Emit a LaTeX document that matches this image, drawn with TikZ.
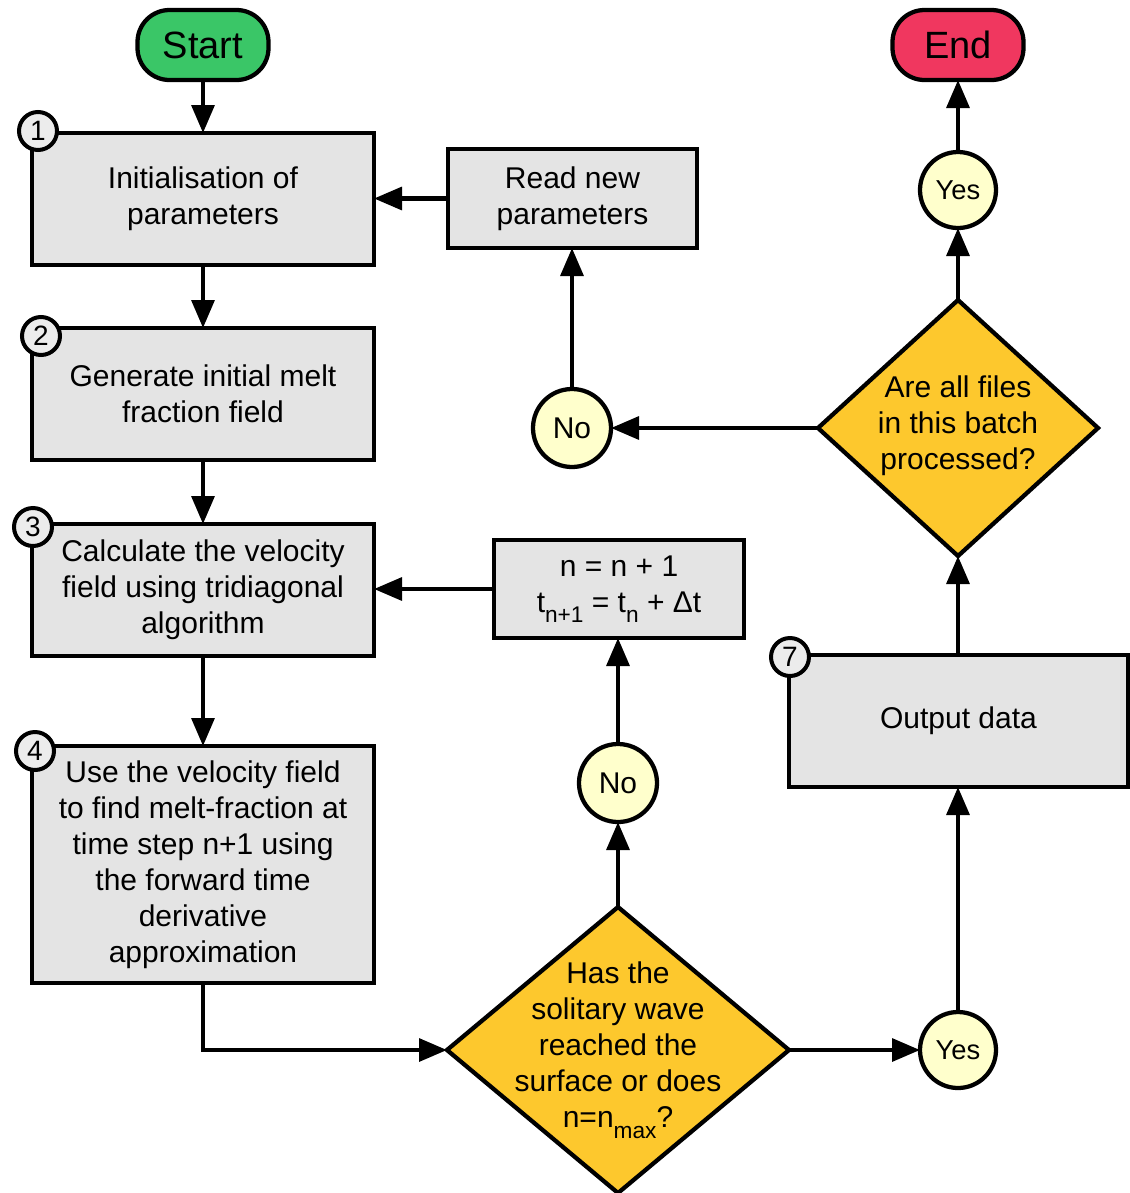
\documentclass[tikz,border=0pt]{standalone}
\usepackage{fontspec}
\setmainfont{Liberation Sans}
\usetikzlibrary{shapes.geometric,arrows.meta}
\definecolor{startgreen}{RGB}{58,198,103}
\definecolor{endred}{RGB}{240,55,95}
\definecolor{decgold}{RGB}{253,200,45}
\definecolor{ansyellow}{RGB}{255,255,204}
\definecolor{boxgray}{RGB}{228,228,228}
\definecolor{numgray}{RGB}{236,236,236}
\newcommand\zbox[1]{\raisebox{-8.5pt}{\makebox[0pt]{\smash{\begin{tabular}{@{}c@{}}#1\end{tabular}}}}}
\newcommand\lowsub[1]{\raisebox{-0.35em}{\fontsize{17}{17}\selectfont #1}}
\tikzset{
  base/.style={draw=black, line width=3.2pt, inner sep=0pt, outer sep=0pt, align=center,
    font=\fontsize{22.5}{27}\selectfont},
  terminal/.style={base, rounded corners=24pt, minimum width=98.25pt, minimum height=52.5pt,
    font=\fontsize{28.5}{30}\selectfont},
  procbox/.style={base, rectangle, fill=boxgray},
  decision/.style={base, diamond, fill=decgold},
  answer/.style={base, circle, fill=ansyellow},
  numcirc/.style={base, circle, fill=numgray, minimum size=28.5pt, line width=3pt,
    font=\fontsize{21}{21}\selectfont},
  arr/.style={line width=3.2pt, -{Triangle[length=21pt,width=17pt]}},
}
\begin{document}
\begin{tikzpicture}[x=0.75pt,y=-0.75pt]
\useasboundingbox (0,0) rectangle (1130,1193);
% terminals
\node[terminal, fill=startgreen] (start) at (203,45) {Start};
\node[terminal, fill=endred] (end) at (958,45) {End};
% process boxes
\node[procbox, minimum width=256.5pt, minimum height=99pt] (b1) at (203,199) {Initialisation of\\parameters};
\node[procbox, minimum width=256.5pt, minimum height=99pt] (b2) at (203,394) {Generate initial melt\\fraction field};
\node[procbox, minimum width=256.5pt, minimum height=99pt] (b3) at (203,590) {Calculate the velocity\\field using tridiagonal\\algorithm};
\node[procbox, minimum width=256.5pt, minimum height=177.75pt] (b4) at (203,864.5) {Use the velocity field\\to find melt-fraction at\\time step n+1 using\\the forward time\\derivative\\approximation};
\node[procbox, minimum width=186.75pt, minimum height=74.25pt] (rnp) at (572.5,198.5) {Read new\\parameters};
\node[procbox, minimum width=187.5pt, minimum height=73.5pt] (nb) at (619,589) {n = n + 1\\t\lowsub{n+1} = t\lowsub{n} + Δt};
\node[procbox, minimum width=254.25pt, minimum height=99pt] (out) at (958.5,721) {Output data};
% decisions
\node[decision, minimum width=210pt, minimum height=192pt] (d1) at (958,428)
  {\zbox{Are all files\\in this batch\\processed?}};
\node[decision, minimum width=256.5pt, minimum height=214.5pt] (d2) at (618,1050)
  {\zbox{Has the\\solitary wave\\reached the\\surface or does\\n=n\lowsub{max}?}};
% answers
\node[answer, minimum size=57pt, font=\fontsize{20.5}{22}\selectfont] (yes1) at (958,190) {Yes};
\node[answer, minimum size=58.5pt] (no1) at (572,428) {No};
\node[answer, minimum size=58.5pt] (no2) at (618,783) {No};
\node[answer, minimum size=57pt, font=\fontsize{20.5}{22}\selectfont] (yes2) at (958,1050) {Yes};
% number circles
\node[numcirc] (c1) at (38,131) {1};
\node[numcirc] (c2) at (41,336) {2};
\node[numcirc] (c3) at (33,527) {3};
\node[numcirc] (c4) at (35,751) {4};
\node[numcirc] (c7) at (790,657) {7};
% connectors
\draw[arr] (start) -- (b1);
\draw[arr] (b1) -- (b2);
\draw[arr] (b2) -- (b3);
\draw[arr] (b3) -- (b4);
\draw[arr] (b4.south) |- (d2.west);
\draw[arr] (d2.north) -- (no2.south);
\draw[arr] (no2) -- (nb.south -| no2);
\draw[arr] (nb.west) -- (nb.west -| b3.east);
\draw[arr] (d2.east) -- (yes2.west);
\draw[arr] (yes2) -- (out.south -| yes2);
\draw[arr] (out.north -| d1) -- (d1.south);
\draw[arr] (d1.north) -- (yes1.south);
\draw[arr] (yes1) -- (end);
\draw[arr] (d1.west) -- (no1.east);
\draw[arr] (no1) -- (rnp.south -| no1);
\draw[arr] (rnp.west) -- (rnp.west -| b1.east);
\end{tikzpicture}
\end{document}
